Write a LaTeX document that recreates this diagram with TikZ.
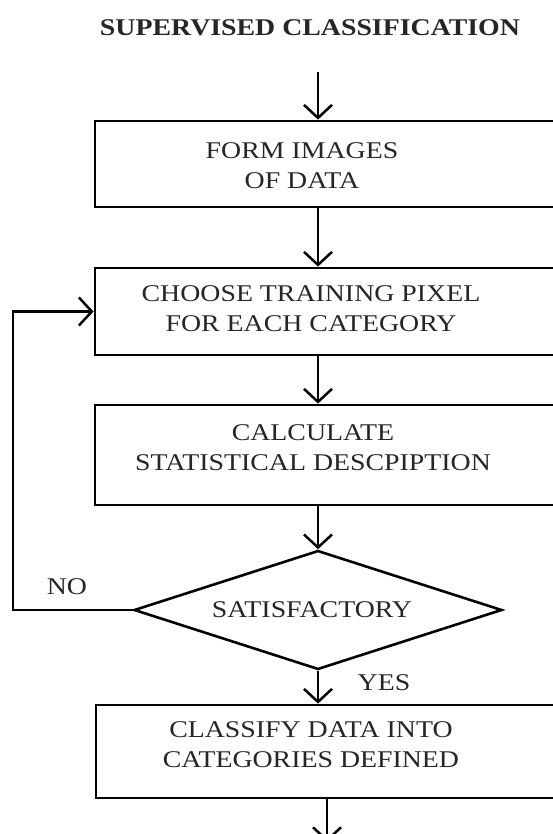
\documentclass[tikz,border=0pt]{standalone}
\usepackage{fontspec}
\setmainfont[FakeStretch=1.16]{Liberation Serif}
\usetikzlibrary{arrows.meta,shapes.geometric}
\begin{document}
\begin{tikzpicture}[x=1pt,y=-1pt,
  boxst/.style={draw,line width=2.8pt,rectangle,minimum width=505pt,inner sep=0pt},
  txt/.style={align=center,font=\fontsize{24}{30}\selectfont,text=black!85,inner sep=0pt},
  arr/.style={line width=2.5pt,-{Straight Barb[length=13pt,width=28pt,line width=2.5pt]}},
  ln/.style={line width=2.6pt}]
\useasboundingbox (0,0) rectangle (553,834);
\clip (0,0) rectangle (553,834);
\fill[white] (0,0) rectangle (553,834);
\node[txt,font=\fontsize{24}{28}\selectfont\bfseries] (title) at (310,28) {SUPERVISED CLASSIFICATION};
\coordinate (top) at (318,72);
\node[boxst,minimum height=86pt] (b1) at (347.5,164) {};
\node[boxst,minimum height=87pt] (b2) at (347.5,311.5) {};
\node[boxst,minimum height=100pt] (b3) at (347.5,455) {};
\node[draw,ln,diamond,inner sep=0pt,minimum width=368pt,minimum height=119pt] (d) at (318,610) {};
\node[boxst,minimum height=93pt] (b4) at (348.5,751.5) {};
\node[txt] (t1) at (302,166) {FORM IMAGES\\OF DATA};
\node[txt] (t2) at (311,309) {CHOOSE TRAINING PIXEL\\FOR EACH CATEGORY};
\node[txt] (t3) at (313,448) {CALCULATE\\STATISTICAL DESCPIPTION};
\node[txt] (t4) at (311,745) {CLASSIFY DATA INTO\\CATEGORIES DEFINED};
\node[txt] (sat) at (312,610) {SATISFACTORY};
\node[txt] (no) at (67,587) {NO};
\node[txt] (yes) at (384,683) {YES};
\coordinate (c1) at (13,610);
\coordinate (bot) at (327,842);
\draw[arr] (top) -- (b1.north -| top);
\draw[arr] (b1.south -| top) -- (b2.north -| top);
\draw[arr] (b2.south -| top) -- (b3.north -| top);
\draw[arr] (b3.south -| top) -- (d.north);
\draw[arr] (d.south) -- (b4.north -| d.south);
\draw[arr] (b4.south -| bot) -- (bot);
\draw[arr] (d.west) -- (d.west -| c1) |- (b2.west);
\end{tikzpicture}
\end{document}
